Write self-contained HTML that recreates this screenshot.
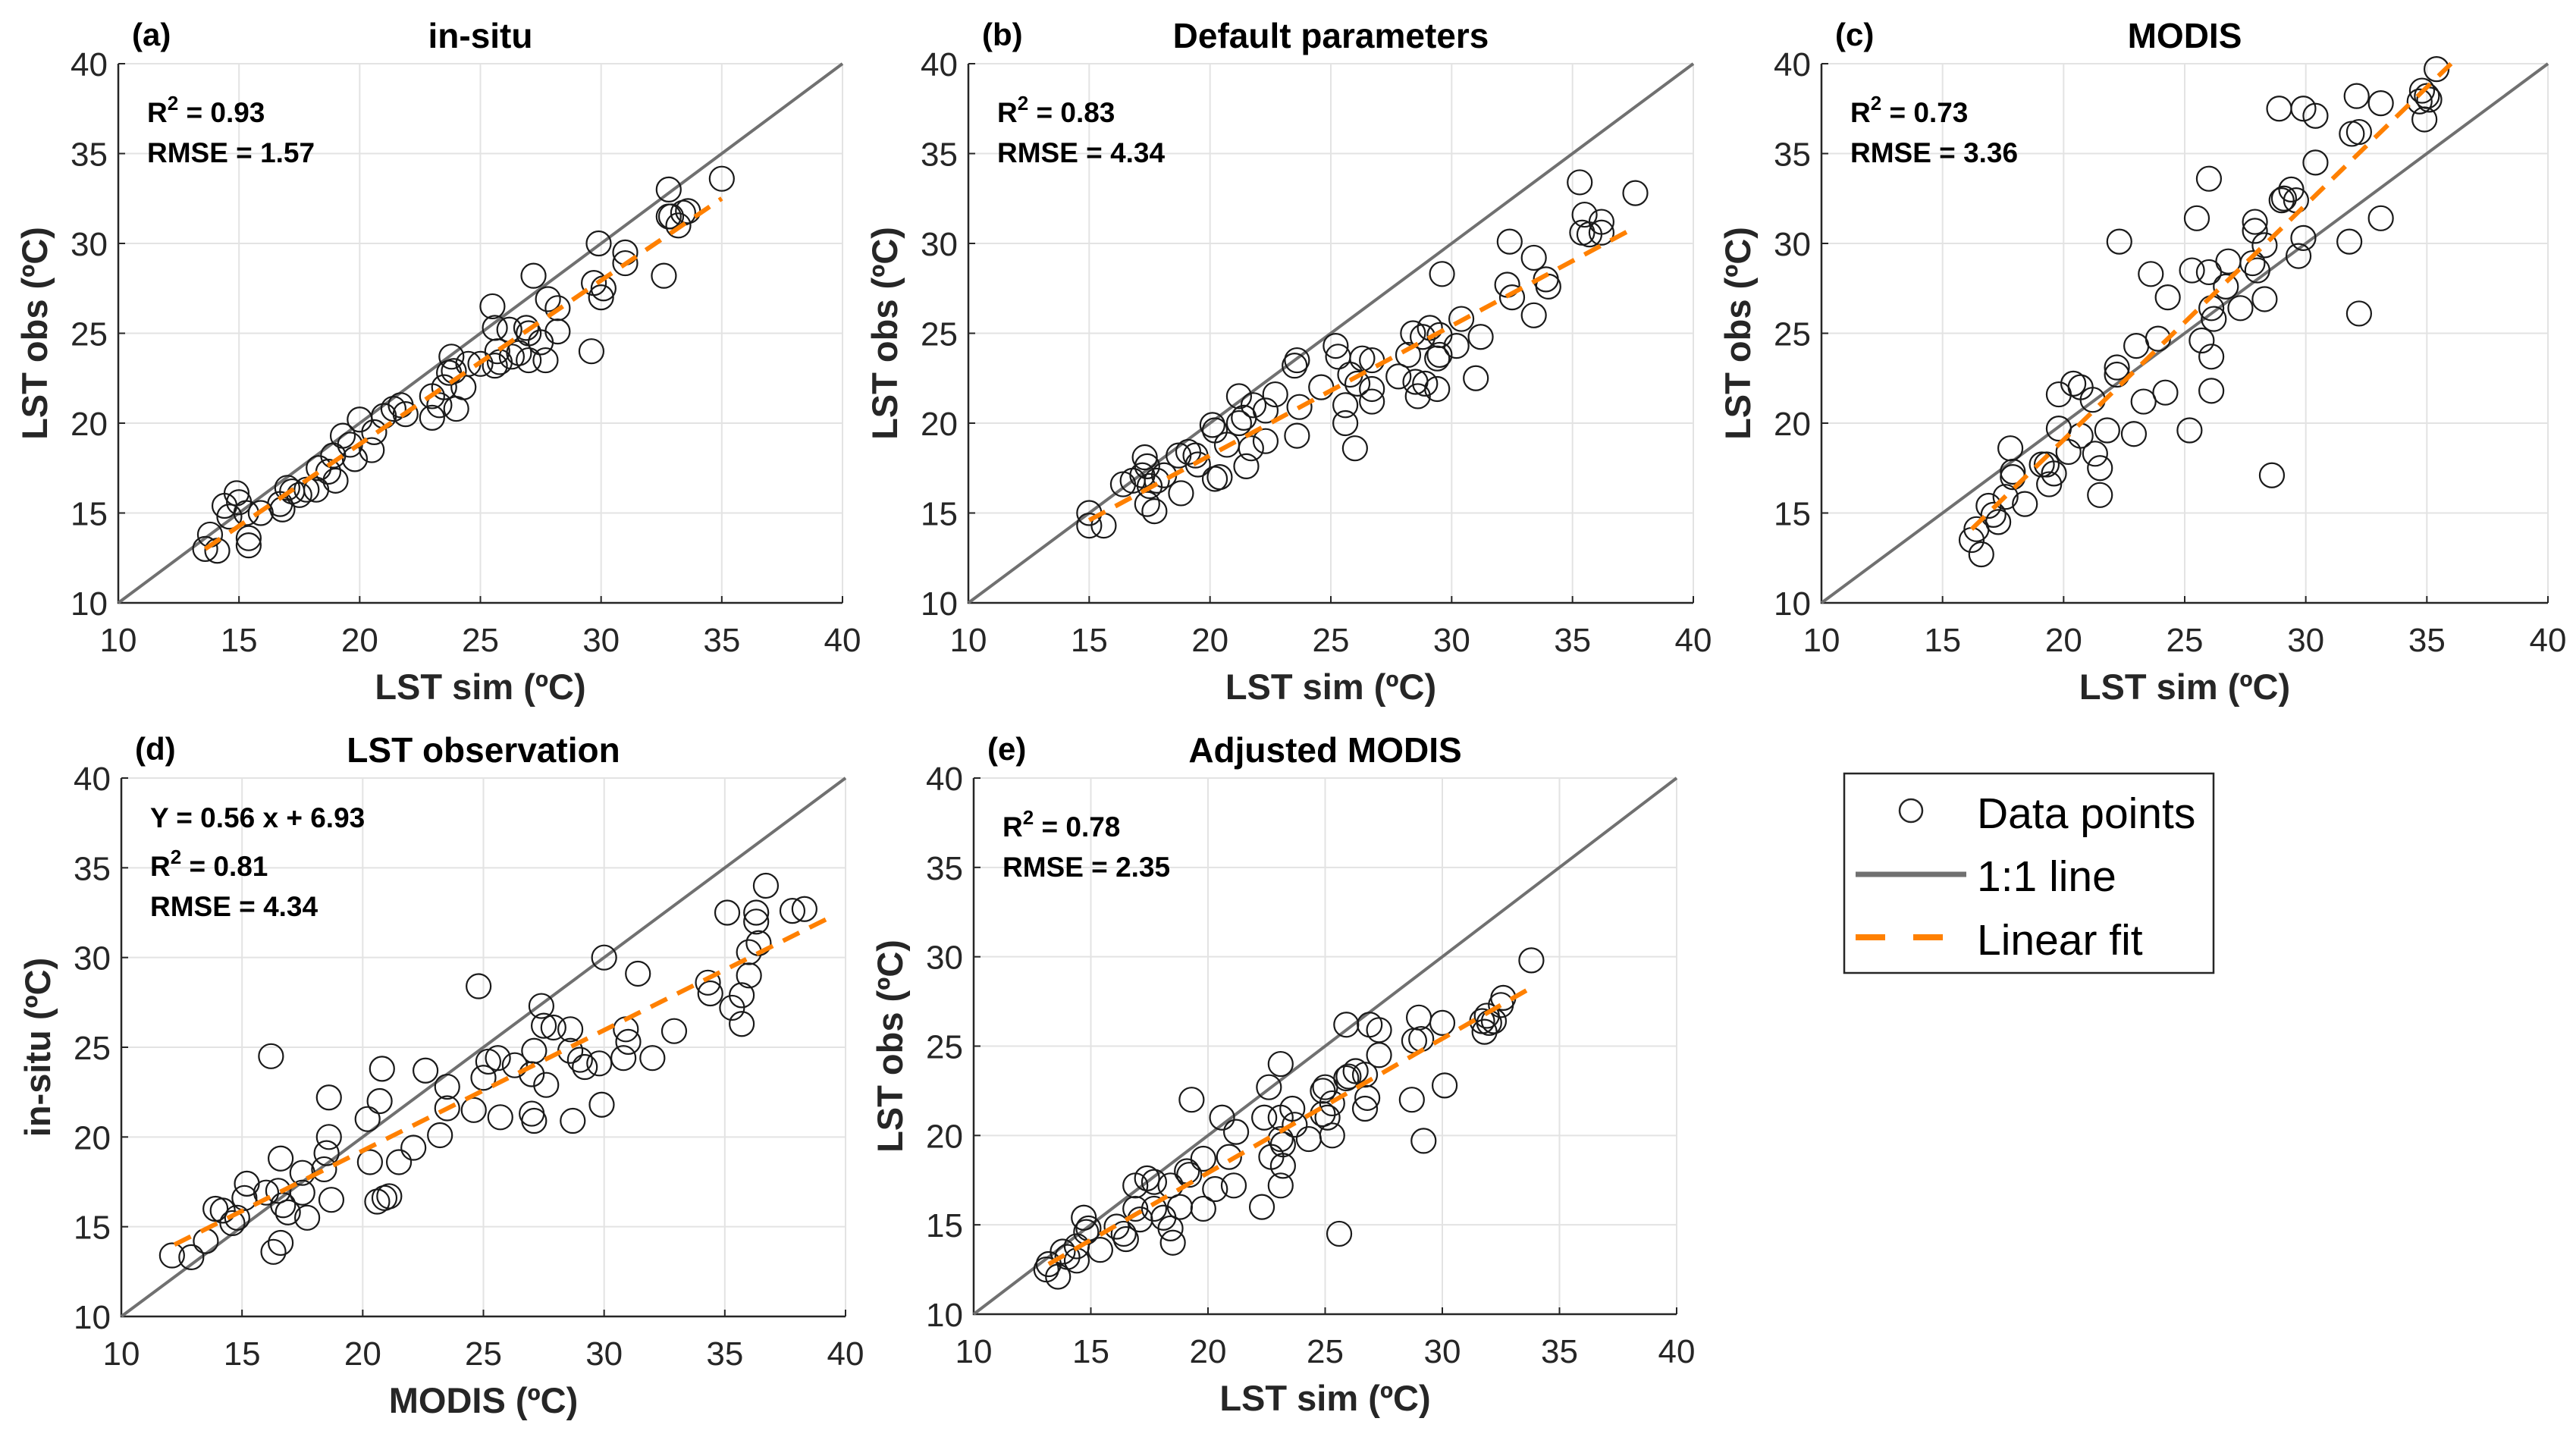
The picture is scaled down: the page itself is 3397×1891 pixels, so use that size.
<!DOCTYPE html>
<html><head><meta charset="utf-8">
<style>
html,body{margin:0;padding:0;background:#fff;}
svg{display:block;font-family:"Liberation Sans",Arial,sans-serif;}
</style></head>
<body>
<svg id="fig" width="3397" height="1891" viewBox="0 0 3397 1891" xmlns="http://www.w3.org/2000/svg">
<rect x="0" y="0" width="3397" height="1891" fill="#fff"/>
<g>
<rect x="2432" y="1020" width="487" height="263" fill="#fff" stroke="#262626" stroke-width="2.5"/>
<circle cx="2520" cy="1069" r="15" fill="none" stroke="#262626" stroke-width="2.5"/>
<text x="2607" y="1092" font-size="57" fill="#000">Data points</text>
<line x1="2447" y1="1153" x2="2593" y2="1153" stroke="#707070" stroke-width="7"/>
<text x="2607" y="1175" font-size="57" fill="#000">1:1 line</text>
<line x1="2447" y1="1236" x2="2593" y2="1236" stroke="#ff8000" stroke-width="8" stroke-dasharray="39,37"/>
<text x="2607" y="1259" font-size="57" fill="#000">Linear fit</text>
</g>
</svg>
<script>
const ticks = [10, 15, 20, 25, 30, 35, 40];
const tickLabels = ["10", "15", "20", "25", "30", "35", "40"];

const aX = [13.6,13.8,14.1,14.4,14.6,14.9,15.0,15.3,15.4,15.4,15.9,16.7,16.8,17.0,17.2,17.5,17.8,18.2,18.3,18.7,18.9,19.0,19.3,19.6,19.8,20.0,20.5,20.6,21.0,21.4,21.7,21.9,23.0,23.0,23.3,23.5,23.7,23.8,23.9,24.0,24.3,24.5,25.0,25.5,25.6,25.6,25.7,25.8,26.2,26.3,26.6,26.9,27.0,27.0,27.2,27.5,27.7,27.8,28.2,28.2,29.6,29.7,29.9,30.0,30.1,31.0,31.0,32.6,32.8,32.8,32.9,33.2,33.4,33.6,35.0];
const aY = [13.0,13.8,12.9,15.4,14.8,16.1,15.6,15.0,13.6,13.2,15.0,15.5,15.2,16.4,16.2,16.0,16.3,16.3,17.5,17.3,18.2,16.8,19.3,18.8,18.0,20.2,18.5,19.5,20.4,20.8,21.0,20.5,21.5,20.3,21.0,22.0,22.8,23.7,22.9,20.8,22.0,23.3,23.3,26.5,25.3,23.2,24.0,23.4,25.2,23.7,23.9,25.3,25.0,23.5,28.2,24.5,23.5,26.9,26.4,25.1,24.0,27.8,30.0,27.0,27.5,29.5,28.9,28.2,33.0,31.5,31.5,31.0,31.7,31.8,33.6];
const aFitX = [13.6, 35.0];
const aFitY = [13.0, 32.5];

const bX = [15.0,15.0,15.6,16.4,16.8,17.2,17.3,17.4,17.4,17.5,17.7,17.8,18.1,18.7,18.8,19.1,19.4,19.5,20.1,20.2,20.2,20.4,20.7,21.2,21.2,21.4,21.5,21.7,21.8,22.3,22.3,22.7,23.5,23.6,23.6,23.7,24.6,25.2,25.3,25.6,25.6,25.8,26.0,26.1,26.3,26.7,26.7,26.7,27.8,28.2,28.4,28.5,28.6,28.8,28.9,29.1,29.4,29.4,29.5,29.6,29.5,30.2,30.4,31.2,31.0,32.3,32.4,32.5,33.4,33.4,33.9,34.0,35.3,35.4,35.5,35.7,36.2,36.2,37.6];
const bY = [15.0,14.3,14.3,16.6,16.8,17.1,18.1,17.6,15.5,16.5,15.1,16.8,17.1,18.2,16.1,18.4,18.2,17.7,19.9,19.6,16.9,17.0,18.8,21.5,20.0,20.3,17.6,18.6,21.0,20.7,19.0,21.6,23.2,23.5,19.3,20.9,22.0,24.3,23.7,21.0,20.0,22.7,18.6,22.2,23.6,23.5,21.9,21.2,22.6,23.8,25.0,22.3,21.5,24.8,22.2,25.3,23.6,21.9,24.9,28.3,23.8,24.3,25.8,24.8,22.5,27.7,30.1,27.0,29.2,26.0,28.0,27.6,33.4,30.6,31.6,30.5,31.2,30.6,32.8];
const bFitX = [15.0, 37.6];
const bFitY = [14.6, 30.9];

const cX = [16.2,16.4,16.6,16.9,17.1,17.3,17.6,17.8,17.9,17.9,18.4,19.1,19.3,19.4,19.6,19.8,19.8,20.2,20.4,20.7,20.7,21.2,21.3,21.5,21.5,21.8,22.2,22.2,22.3,22.9,23.0,23.3,23.6,23.9,24.2,24.3,25.2,25.3,25.5,25.7,26.0,26.0,26.1,26.1,26.1,26.2,26.7,26.8,27.3,27.8,27.9,27.9,28.0,28.3,28.3,28.6,28.9,29.0,29.1,29.4,29.6,29.7,29.9,29.9,30.4,30.4,31.8,31.9,32.1,32.2,32.2,33.1,33.1,34.7,34.8,34.9,35.0,35.1,35.4];
const cY = [13.5,14.1,12.7,15.4,14.9,14.5,15.9,18.6,17.3,17.0,15.5,17.7,17.7,16.6,17.2,21.6,19.7,18.4,22.2,22.0,19.3,21.3,18.3,17.5,16.0,19.6,22.7,23.1,30.1,19.4,24.3,21.2,28.3,24.7,21.7,27.0,19.6,28.5,31.4,24.6,33.6,28.4,26.4,23.7,21.8,25.8,27.6,29.0,26.4,28.9,31.2,30.7,28.5,26.9,29.9,17.1,37.5,32.4,32.5,33.0,32.4,29.3,37.5,30.3,37.1,34.5,30.1,36.1,38.2,36.2,26.1,37.8,31.4,37.9,38.5,36.9,38.2,38.0,39.7];
const cFitX = [16.2, 36.0];
const cFitY = [14.1, 40.0];

const dX = [12.1,12.9,13.5,13.9,14.2,14.6,14.8,15.1,15.2,16.0,16.2,16.3,16.5,16.6,16.6,16.7,16.9,17.5,17.5,17.7,18.4,18.5,18.6,18.6,18.7,20.2,20.3,20.6,20.7,20.8,20.9,21.1,21.5,22.1,22.6,23.2,23.5,23.5,24.6,24.8,25.0,25.2,25.6,25.7,26.3,27.0,27.0,27.1,27.1,27.4,27.5,27.6,27.9,28.6,28.6,28.7,29.0,29.2,29.8,29.9,30.0,30.8,30.9,31.0,31.4,32.0,32.9,34.3,34.4,35.1,35.3,35.7,35.7,36.0,36.0,36.3,36.3,36.4,36.7,37.8,38.3];
const dY = [13.4,13.3,14.2,16.0,15.9,15.2,15.5,16.6,17.4,16.9,24.5,13.6,17.0,14.1,18.8,16.2,15.8,18.0,16.9,15.5,18.2,19.1,20.0,22.2,16.5,21.0,18.6,16.4,22.0,23.8,16.6,16.7,18.6,19.4,23.7,20.1,22.8,21.6,21.5,28.4,23.3,24.2,24.4,21.1,24.0,21.3,23.5,20.9,24.8,27.3,26.2,22.9,26.1,26.0,24.8,20.9,24.3,23.9,24.1,21.8,30.0,24.4,26.0,25.3,29.1,24.4,25.9,28.6,28.0,32.5,27.2,27.9,26.3,30.3,29.0,32.5,32.0,30.8,34.0,32.6,32.7];
const dFitX = [12.2, 39.6];
const dFitY = [14.0, 32.4];

const eX = [13.1,13.2,13.6,13.8,14.0,14.4,14.4,14.7,14.8,14.9,15.4,16.1,16.4,16.5,16.9,16.9,17.1,17.4,17.7,17.7,18.1,18.4,18.4,18.5,18.8,19.1,19.2,19.3,19.8,19.8,20.3,20.6,20.9,21.1,21.2,22.3,22.4,22.6,22.7,23.1,23.1,23.1,23.2,23.2,23.1,23.6,23.7,24.3,24.9,24.9,25.0,25.1,25.3,25.3,25.6,25.9,25.9,26.0,26.3,26.7,26.7,26.8,26.9,27.3,27.3,28.7,28.8,29.0,29.1,29.2,30.0,30.1,31.7,31.8,31.9,32.0,32.2,32.5,32.6,33.8];
const eY = [12.5,12.8,12.1,13.5,13.2,13.8,13.0,15.4,14.6,14.8,13.6,14.9,14.5,14.2,17.2,15.9,15.3,17.6,17.4,15.9,15.4,17.2,14.8,14.0,16.0,18.0,17.8,22.0,18.7,15.9,17.0,21.0,18.8,17.2,20.2,16.0,21.0,22.7,18.8,24.0,21.0,19.8,19.5,18.3,17.2,21.5,20.6,19.8,21.2,22.5,22.7,21.0,21.8,20.0,14.5,26.2,23.2,23.3,23.6,23.4,21.5,22.1,26.2,25.9,24.5,22.0,25.3,26.6,25.4,19.7,26.3,22.8,26.4,25.8,26.7,26.3,26.4,27.3,27.7,29.8];
const eFitX = [13.2, 33.7];
const eFitY = [12.8, 28.2];

const NS = "http://www.w3.org/2000/svg";
const svg = document.getElementById('fig');
function mk(tag, attrs, parent) {
  const el = document.createElementNS(NS, tag);
  for (const k in attrs) el.setAttribute(k, attrs[k]);
  parent.appendChild(el);
  return el;
}

const panels = [
  {id:'a', L:156, R:1111, T:84, B:795, title:'in-situ', xl:'LST sim (ºC)', yl:'LST obs (ºC)', stats:[null,'0.93','1.57'], X:aX, Y:aY, FX:aFitX, FY:aFitY},
  {id:'b', L:1277, R:2233, T:84, B:795, title:'Default parameters', xl:'LST sim (ºC)', yl:'LST obs (ºC)', stats:[null,'0.83','4.34'], X:bX, Y:bY, FX:bFitX, FY:bFitY},
  {id:'c', L:2402, R:3360, T:84, B:795, title:'MODIS', xl:'LST sim (ºC)', yl:'LST obs (ºC)', stats:[null,'0.73','3.36'], X:cX, Y:cY, FX:cFitX, FY:cFitY},
  {id:'d', L:160, R:1115, T:1026, B:1736, title:'LST observation', xl:'MODIS (ºC)', yl:'in-situ (ºC)', stats:['Y = 0.56 x + 6.93','0.81','4.34'], X:dX, Y:dY, FX:dFitX, FY:dFitY},
  {id:'e', L:1284, R:2211, T:1026, B:1733, title:'Adjusted MODIS', xl:'LST sim (ºC)', yl:'LST obs (ºC)', stats:[null,'0.78','2.35'], X:eX, Y:eY, FX:eFitX, FY:eFitY}
];

panels.forEach(p => {
  const g = mk('g', {}, svg);
  
  
  const sx = v => p.L + (v - 10) / 30 * (p.R - p.L);
  const sy = v => p.B - (v - 10) / 30 * (p.B - p.T);
  ticks.forEach((t, i) => {
    if (i > 0) {
      const gl = mk('line', {x1:sx(t), y1:p.T, x2:sx(t), y2:p.B, stroke:'#e3e3e3', 'stroke-width':2}, g);
      
      
      const gh = mk('line', {x1:p.L, y1:sy(t), x2:p.R, y2:sy(t), stroke:'#e3e3e3', 'stroke-width':2}, g);
      
      
    }
    const xt = mk('text', {x:sx(t), y:p.B + 64, 'font-size':44, fill:'#262626', 'text-anchor':'middle'}, g);
    xt.textContent = tickLabels[i];
    
    
    const yt = mk('text', {x:p.L - 14, y:sy(t) + 16, 'font-size':44, fill:'#262626', 'text-anchor':'end'}, g);
    yt.textContent = tickLabels[i];
    
    
    const tk1 = mk('line', {x1:sx(t), y1:p.B, x2:sx(t), y2:p.B - 9, stroke:'#262626', 'stroke-width':2}, g);
    
    
    const tk2 = mk('line', {x1:p.L, y1:sy(t), x2:p.L + 9, y2:sy(t), stroke:'#262626', 'stroke-width':2}, g);
    
    
  });
  const ax = mk('path', {d:`M${p.L},${p.T} L${p.L},${p.B} L${p.R},${p.B}`, fill:'none', stroke:'#262626', 'stroke-width':2.5}, g);
  
  
  const one = mk('line', {x1:sx(10), y1:sy(10), x2:sx(40), y2:sy(40), stroke:'#707070', 'stroke-width':4}, g);
  
  
  p.X.forEach((x, i) => {
    const c = mk('circle', {cx:sx(x), cy:sy(p.Y[i]), r:16, fill:'none', stroke:'#1a1a1a', 'stroke-width':2.2}, g);
    
    
  });
  const fit = mk('line', {x1:sx(p.FX[0]), y1:sy(p.FY[0]), x2:sx(p.FX[1]), y2:sy(p.FY[1]), stroke:'#ff8000', 'stroke-width':6, 'stroke-dasharray':'24,15'}, g);
  
  
  const cx = (p.L + p.R) / 2;
  const tt = mk('text', {x:cx, y:p.T - 21, 'font-size':46, 'font-weight':'bold', fill:'#000', 'text-anchor':'middle'}, g);
  tt.textContent = p.title;
  
  
  const pl = mk('text', {x:p.L + 18, y:p.T - 24, 'font-size':42, 'font-weight':'bold', fill:'#000'}, g);
  pl.textContent = '(' + p.id + ')';
  
  
  const xl = mk('text', {x:cx, y:p.B + 127, 'font-size':47, 'font-weight':'bold', fill:'#262626', 'text-anchor':'middle'}, g);
  xl.textContent = p.xl;
  
  
  const ym = (p.T + p.B) / 2;
  const yl = mk('text', {x:0, y:0, 'font-size':47, 'font-weight':'bold', fill:'#262626', 'text-anchor':'middle', transform:`translate(${p.L - 94},${ym}) rotate(-90)`}, g);
  yl.textContent = p.yl;
  
  
  let by = p.T + 77;
  const sxp = p.L + 38;
  if (p.stats[0]) {
    const eq = mk('text', {x:sxp, y:by - 12, 'font-size':37, 'font-weight':'bold', fill:'#000'}, g);
    eq.textContent = p.stats[0];
    
    
    by += 52;
  }
  const r2 = mk('text', {x:sxp, y:by, 'font-size':37, 'font-weight':'bold', fill:'#000'}, g);
  
  
  const t1 = mk('tspan', {}, r2); t1.textContent = 'R';
  const t2 = mk('tspan', {dy:-16, 'font-size':26}, r2); t2.textContent = '2';
  const t3 = mk('tspan', {dy:16}, r2); t3.textContent = ' = ' + p.stats[1];
  const rm = mk('text', {x:sxp, y:by + 53, 'font-size':37, 'font-weight':'bold', fill:'#000'}, g);
  rm.textContent = 'RMSE = ' + p.stats[2];
  
  
});
</script>
</body></html>
